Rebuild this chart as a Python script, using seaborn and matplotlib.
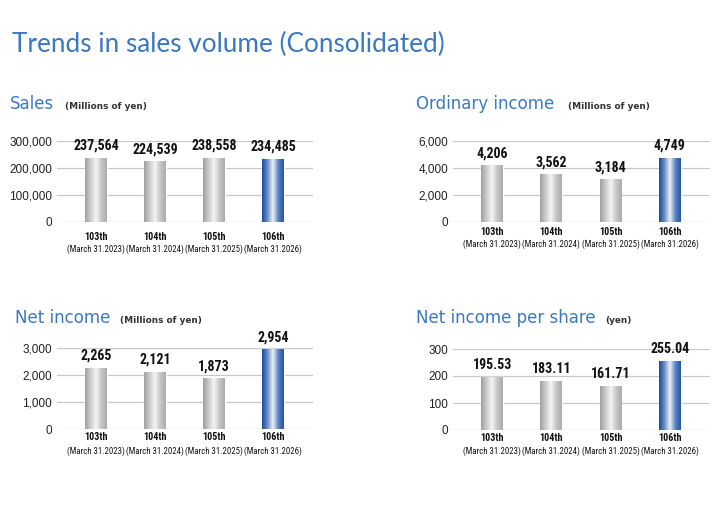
import numpy as np
import matplotlib
matplotlib.use('Agg')
import matplotlib.pyplot as plt
from matplotlib.colors import LinearSegmentedColormap
from matplotlib.ticker import FuncFormatter
import seaborn as sns

terms = ['103th', '104th', '105th', '106th']
dates = ['(March 31.2023)', '(March 31.2024)', '(March 31.2025)', '(March 31.2026)']

sales = [237564, 224539, 238558, 234485]
ordinary = [4206, 3562, 3184, 4749]
net_income = [2265, 2121, 1873, 2954]
eps = [195.53, 183.11, 161.71, 255.04]

sales_ticks = [0, 100000, 200000, 300000]
ordinary_ticks = [0, 2000, 4000, 6000]
net_ticks = [0, 1000, 2000, 3000]
eps_ticks = [0, 100, 200, 300]

BLUE = '#3b78c1'
COND = 'Roboto Condensed'
grey_cmap = LinearSegmentedColormap.from_list('g', ['#a0a0a0', '#cbcbcb', '#f5f5f5', '#c6c6c6', '#acacac'])
blue_cmap = LinearSegmentedColormap.from_list('b', ['#1c4b9a', '#6a8fc7', '#eef2f9', '#5b83c1', '#2554a4'])

sns.set_style('white')
plt.rcParams['font.family'] = ['DejaVu Sans']

fig = plt.figure(figsize=(7.2, 5.17), dpi=100)


def px_axes(x0, y0, x1, y1):
    return fig.add_axes([x0 / 720, 1 - y1 / 517, (x1 - x0) / 720, (y1 - y0) / 517])


def panel(box, values, ticks, fmt, labels, title, unit, title_xy, unit_x, lab_off):
    ax = px_axes(*box)
    colors = ['#bbbbbb'] * 3 + ['#2a5aa8']
    sns.barplot(x=terms, y=values, hue=terms, palette=colors, width=0.37,
                legend=False, ax=ax, saturation=1)
    ax.set_xlim(-0.66, 3.68)
    ax.set_ylim(0, ticks[-1])
    grad = np.linspace(0, 1, 64).reshape(1, -1)
    for i, p in enumerate(ax.patches):
        x, w, h = p.get_x(), p.get_width(), p.get_height()
        im = ax.imshow(grad, cmap=blue_cmap if i == 3 else grey_cmap, aspect='auto',
                       extent=[x, x + w, 0, h], zorder=3)
        im.set_clip_path(p)
        ax.annotate(labels[i], xy=(x + w / 2, h), xytext=(0, 3.5), textcoords='offset points',
                    ha='center', va='bottom', fontsize=10, fontweight='bold',
                    family=COND, color='#111111')
    ax.set_xlim(-0.66, 3.68)
    ax.set_ylim(0, ticks[-1])
    ax.set_yticks(ticks)
    ax.yaxis.set_major_formatter(FuncFormatter(fmt))
    ax.set_xticks([])
    ax.set_xlabel('')
    ax.set_ylabel('')
    ax.grid(axis='y', color='#c8c8c8', lw=0.9)
    ax.set_axisbelow(True)
    for s in ax.spines.values():
        s.set_visible(False)
    ax.tick_params(axis='y', length=0, pad=3.6, labelsize=8.5, labelcolor='#222222')
    for t in ax.get_yticklabels():
        t.set_family('Liberation Sans')
    for i in range(4):
        ax.annotate(terms[i], xy=(i, 0), xycoords=('data', 'axes fraction'),
                    xytext=(0, -lab_off[0] * 0.72), textcoords='offset points',
                    ha='center', va='center', fontsize=7.2, fontweight='bold',
                    family=COND, color='#111111')
        ax.annotate(dates[i], xy=(i, 0), xycoords=('data', 'axes fraction'),
                    xytext=(0, -lab_off[1] * 0.72), textcoords='offset points',
                    ha='center', va='center', fontsize=6.3,
                    family=COND, color='#111111')
    fig.text(title_xy[0] / 720, 1 - title_xy[1] / 517, title, fontsize=12,
             color=BLUE, ha='left', va='baseline')
    fig.text(unit_x / 720, 1 - title_xy[1] / 517, unit, fontsize=6.4, fontweight='bold',
             color='#333333', ha='left', va='baseline')
    return ax


comma = lambda v, pos: f'{int(v):,}'
plain = lambda v, pos: f'{int(v)}'

panel((57, 141, 313, 222), sales, sales_ticks, comma, [f'{v:,}' for v in sales],
      'Sales', '(Millions of yen)', (10, 109), 65, (15.5, 27.5))
panel((453, 141, 710, 222), ordinary, ordinary_ticks, comma, [f'{v:,}' for v in ordinary],
      'Ordinary income', '(Millions of yen)', (416, 109), 568, (10, 22.5))
panel((57, 348, 313, 429), net_income, net_ticks, comma, [f'{v:,}' for v in net_income],
      'Net income', '(Millions of yen)', (15, 323), 120, (8.5, 22))
panel((453, 349, 710, 430), eps, eps_ticks, plain, [f'{v:.2f}' for v in eps],
      'Net income per share', '(yen)', (416, 323), 605, (8, 21))

fig.text(12 / 720, 1 - 52 / 517, 'Trends in sales volume (Consolidated)', fontsize=18.8,
         family='Lato', color=BLUE, ha='left', va='baseline')

fig.savefig('out.png', dpi=100)
